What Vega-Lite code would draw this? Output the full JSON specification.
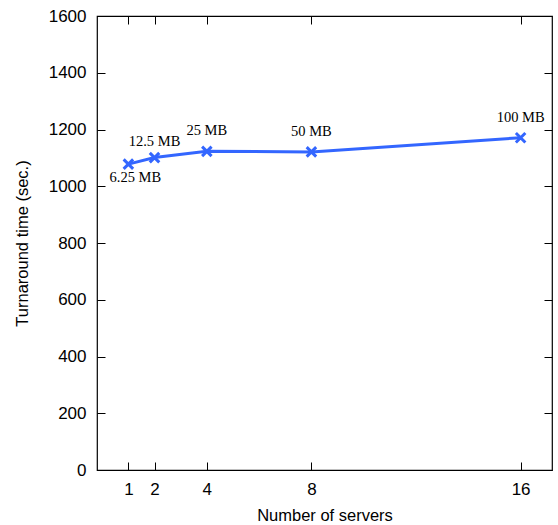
{
  "$schema": "https://vega.github.io/schema/vega-lite/v6.json",
  "autosize": "none",
  "width": 455,
  "height": 454,
  "padding": {"left": 97, "top": 16, "right": 6, "bottom": 55},
  "background": "white",
  "config": {
    "view": {"stroke": "#000000", "strokeWidth": 1.2},
    "axis": {
      "grid": false,
      "domain": false,
      "tickColor": "#000000",
      "tickSize": -8,
      "tickWidth": 1,
      "labelFont": "Liberation Sans",
      "labelFontSize": 17,
      "labelColor": "#000000",
      "titleFont": "Liberation Sans",
      "titleFontSize": 16.5,
      "titleFontWeight": "normal",
      "titleColor": "#000000"
    }
  },
  "data": {
    "values": [
      {"servers": 1, "time": 1078, "label": "6.25 MB"},
      {"servers": 2, "time": 1101, "label": "12.5 MB"},
      {"servers": 4, "time": 1123, "label": "25 MB"},
      {"servers": 8, "time": 1121, "label": "50 MB"},
      {"servers": 16, "time": 1171, "label": "100 MB"}
    ]
  },
  "resolve": {"axis": {"x": "independent", "y": "independent"}},
  "layer": [
    {
      "mark": {"type": "line", "color": "#3366ff", "strokeWidth": 3},
      "encoding": {
        "x": {
          "field": "servers", "type": "quantitative",
          "scale": {"domain": [-0.2, 17.2], "nice": false, "zero": false},
          "axis": {"orient": "bottom", "values": [1, 2, 4, 8, 16], "format": "d", "title": "Number of servers", "labelPadding": 19, "titlePadding": 10}
        },
        "y": {
          "field": "time", "type": "quantitative",
          "scale": {"domain": [0, 1600], "nice": false},
          "axis": {"orient": "left", "values": [0, 200, 400, 600, 800, 1000, 1200, 1400, 1600], "format": "d", "title": "Turnaround time (sec.)", "labelPadding": 19, "titlePadding": 18}
        }
      }
    },
    {
      "mark": {"type": "point", "shape": "M-1,-1L1,1M1,-1L-1,1", "filled": false, "color": "#3366ff", "strokeWidth": 3, "size": 90, "opacity": 1},
      "encoding": {
        "x": {
          "field": "servers", "type": "quantitative",
          "axis": {"orient": "top", "values": [1, 2, 4, 8, 16], "labels": false, "title": null}
        },
        "y": {
          "field": "time", "type": "quantitative",
          "axis": {"orient": "right", "values": [0, 200, 400, 600, 800, 1000, 1200, 1400, 1600], "labels": false, "title": null}
        }
      }
    },
    {
      "transform": [{"filter": "datum.servers == 1"}],
      "mark": {"type": "text", "font": "Liberation Serif", "fontSize": 14.5, "color": "#000000", "dx": 7, "dy": 14, "baseline": "middle"},
      "encoding": {
        "x": {"field": "servers", "type": "quantitative", "axis": null},
        "y": {"field": "time", "type": "quantitative", "axis": null},
        "text": {"field": "label"}
      }
    },
    {
      "transform": [{"filter": "datum.servers == 2"}],
      "mark": {"type": "text", "font": "Liberation Serif", "fontSize": 14.5, "color": "#000000", "dy": -16, "baseline": "middle"},
      "encoding": {
        "x": {"field": "servers", "type": "quantitative", "axis": null},
        "y": {"field": "time", "type": "quantitative", "axis": null},
        "text": {"field": "label"}
      }
    },
    {
      "transform": [{"filter": "datum.servers > 2"}],
      "mark": {"type": "text", "font": "Liberation Serif", "fontSize": 14.5, "color": "#000000", "dy": -20, "baseline": "middle"},
      "encoding": {
        "x": {"field": "servers", "type": "quantitative", "axis": null},
        "y": {"field": "time", "type": "quantitative", "axis": null},
        "text": {"field": "label"}
      }
    }
  ]
}
